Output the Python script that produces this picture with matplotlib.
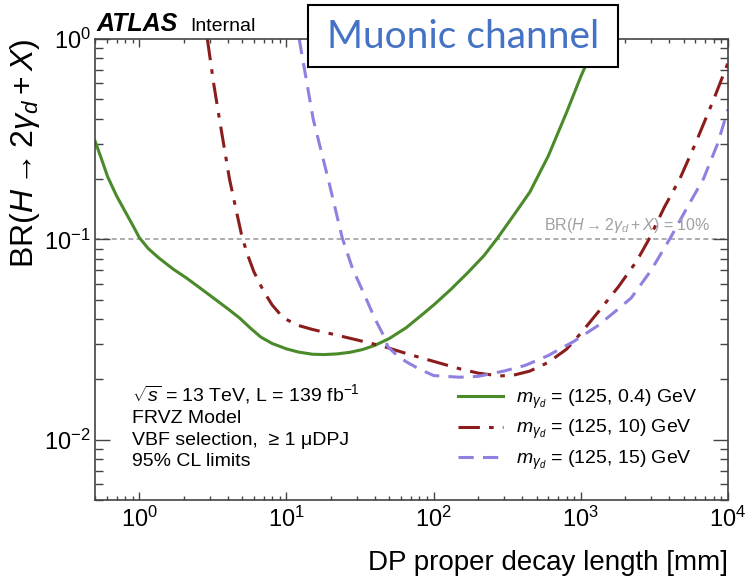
import matplotlib
matplotlib.use('Agg')
import matplotlib.pyplot as plt
from matplotlib.patches import Rectangle
import numpy as np

# decay length [mm] and BR limits
x_04 = [0.5, 0.55, 0.61, 0.7, 0.8, 0.9, 1.0, 1.15, 1.35, 1.7, 2.1, 2.6, 3.3, 4.0, 4.8, 5.7, 6.7,
        8.0, 10, 12, 15, 18, 22, 27, 33, 40, 50, 65, 80, 100, 130, 170, 220, 273, 350, 450, 600,
        800, 1000, 1150, 1260]
br_04 = [0.31, 0.255, 0.205, 0.165, 0.138, 0.118, 0.102, 0.09, 0.081, 0.071, 0.064, 0.057, 0.05,
         0.045, 0.0405, 0.036, 0.0325, 0.0302, 0.0284, 0.0274, 0.0267, 0.0266, 0.0268, 0.0273,
         0.0282, 0.0296, 0.032, 0.0362, 0.041, 0.047, 0.056, 0.068, 0.083, 0.102, 0.132, 0.172,
         0.26, 0.43, 0.65, 0.82, 1.0]

x_10 = [2.9, 3.2, 3.5, 4.1, 4.6, 5.0, 5.5, 6.0, 7.0, 8.0, 9.0, 10, 12, 15, 20, 30, 45, 70, 100,
        150, 200, 280, 350, 450, 600, 800, 1000, 1300, 1800, 2400, 2900, 3700, 4700, 6000, 8000,
        10000]
br_10 = [1.0, 0.6, 0.4, 0.2, 0.135, 0.102, 0.082, 0.069, 0.055, 0.047, 0.0425, 0.0398, 0.0372,
         0.0355, 0.0338, 0.0315, 0.0293, 0.0265, 0.0246, 0.0226, 0.0215, 0.0208, 0.021, 0.022,
         0.0243, 0.0283, 0.034, 0.043, 0.058, 0.078, 0.1, 0.145, 0.2, 0.3, 0.5, 0.76]

x_15 = [12.2, 15.2, 19.2, 23.9, 28, 33.6, 40, 45.3, 49, 56, 65, 80, 100, 150, 200, 300, 420, 600,
        900, 1300, 1800, 2200, 3000, 4070, 5300, 6800, 8500, 10000]
br_15 = [1.0, 0.397, 0.2, 0.102, 0.072, 0.0535, 0.04, 0.0335, 0.029, 0.0265, 0.0245, 0.0225,
         0.0209, 0.0205, 0.0207, 0.022, 0.0235, 0.0263, 0.031, 0.037, 0.045, 0.051, 0.07, 0.102,
         0.145, 0.2, 0.3, 0.445]

labels = [r'$m_{\gamma_d}$ = (125, 0.4) GeV',
          r'$m_{\gamma_d}$ = (125, 10) GeV',
          r'$m_{\gamma_d}$ = (125, 15) GeV']

plt.rcParams['font.family'] = ['Liberation Sans', 'DejaVu Sans']
plt.rcParams['mathtext.fontset'] = 'custom'
plt.rcParams['mathtext.rm'] = 'Liberation Sans'
plt.rcParams['mathtext.it'] = 'Liberation Sans:italic'
plt.rcParams['mathtext.bf'] = 'Liberation Sans:bold'

fig = plt.figure(figsize=(7.45, 5.87), dpi=100)
ax = fig.add_axes([95/745, 87/587, 633/745, 461/587])

ax.plot(x_04, br_04, color='#4a8a2a', lw=2.2, label=labels[0])
ax.plot(x_10, br_10, color='#8b1c1c', lw=2.2, ls=(0, (7, 3, 1.5, 3)), label=labels[1])
ax.plot(x_15, br_15, color='#9080e0', lw=2.2, ls=(0, (5, 3)), label=labels[2])
ax.axhline(0.1, color='#a0a0a0', lw=1.2, ls=(0, (3, 2)), zorder=1)

ax.set_xscale('log')
ax.set_yscale('log')
ax.set_xlim(0.5, 1e4)
ax.set_ylim(0.005, 1.0)

ax.tick_params(which='both', direction='in', top=True, right=True, labelsize=17, width=1, color='#444444')
ax.tick_params(axis='y', which='major', length=11, pad=3)
ax.tick_params(axis='y', which='minor', length=6)
ax.tick_params(axis='x', which='major', length=6, pad=5)
ax.tick_params(axis='x', which='minor', length=3)
for s in ax.spines.values():
    s.set_color('#444444')
    s.set_linewidth(1.2)

ax.set_xlabel('DP proper decay length [mm]', fontsize=20, loc='right', labelpad=13)
ax.set_ylabel(r'BR($H \rightarrow 2\gamma_d + X$)', fontsize=23, loc='top', labelpad=2)

ax.text(615/633, 0.1 * 1.05, r'BR($H \rightarrow 2\gamma_d + X$) = 10%', transform=ax.get_yaxis_transform(),
        ha='right', va='bottom', fontsize=11.5, color='#a0a0a0')

info = '\n'.join([r'$\sqrt{s}$ = 13 TeV, L = 139 fb$^{-1}$', 'FRVZ Model',
                  'VBF selection,  \u2265 1 \u03bcDPJ', '95% CL limits'])
ax.text(37/633, 118/461, info, transform=ax.transAxes, ha='left', va='top',
        fontsize=14, linespacing=1.35)

leg = ax.legend(loc='upper left', bbox_to_anchor=(363/633, 112/461), frameon=False,
                fontsize=14, handlelength=2.3, handletextpad=0.7, labelspacing=0.36,
                borderaxespad=0, borderpad=0)

fig.text(97/745, 1 - 31/587, 'ATLAS', fontsize=18, fontweight='bold', style='italic', ha='left', va='baseline')
fig.text(190/745, 1 - 31/587, 'Internal', fontsize=14, ha='left', va='baseline')

fig.patches.append(Rectangle((308/745, 1 - 67/587), 310/745, 62/587, transform=fig.transFigure,
                             facecolor='white', edgecolor='black', lw=1.5, zorder=10))
fig.text(463/745, 1 - 37/587, 'Muonic channel', fontsize=28, color='#4472c4',
         family=['Lato', 'DejaVu Sans'], ha='center', va='center', zorder=11)

fig.savefig('out.png', dpi=100)
